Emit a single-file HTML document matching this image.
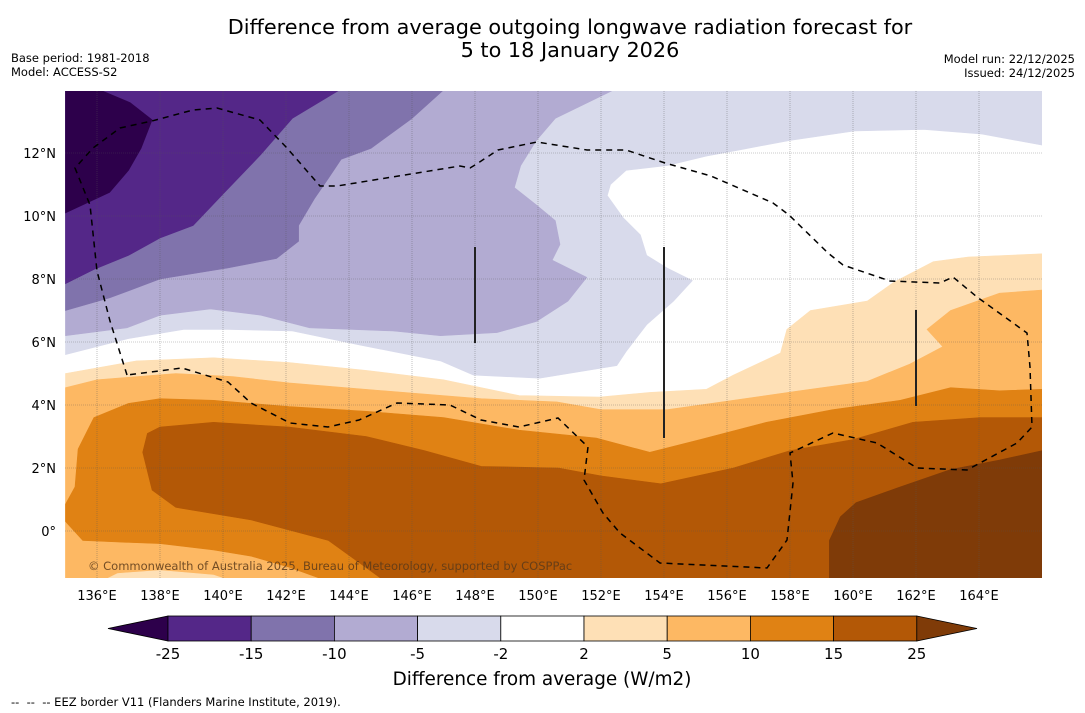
<!DOCTYPE html>
<html><head><meta charset="utf-8"><style>
body{margin:0;background:#fff;}
svg{display:block;font-family:"DejaVu Sans","Liberation Sans",sans-serif;}
</style></head><body>
<svg id="c" width="1085" height="713" viewBox="0 0 1085 713" xmlns="http://www.w3.org/2000/svg">
<text x="570" y="34" font-size="20.8" text-anchor="middle">Difference from average outgoing longwave radiation forecast for</text>
<text x="570" y="57" font-size="20.8" text-anchor="middle">5 to 18 January 2026</text>
<text x="11" y="62" font-size="11.5">Base period: 1981-2018</text>
<text x="11" y="76" font-size="11.5">Model: ACCESS-S2</text>
<text x="1075" y="63" font-size="11.5" text-anchor="end">Model run: 22/12/2025</text>
<text x="1075" y="77" font-size="11.5" text-anchor="end">Issued: 24/12/2025</text>
<defs><clipPath id="mapclip"><rect x="65" y="91" width="977" height="487"/></clipPath></defs>
<g id="map" clip-path="url(#mapclip)"><rect x="65" y="91" width="977" height="487" fill="#fff"/></g>
<g id="axes"></g>
<g id="cbar"></g>
<text x="542" y="685" font-size="18.4" text-anchor="middle">Difference from average (W/m2)</text>
<text x="11" y="706" font-size="11.5" xml:space="preserve">--  --  -- EEZ border V11 (Flanders Marine Institute, 2019).</text>
</svg>
<script>
const levels=[-25,-15,-10,-5,-2,2,5,10,15,25];
const bandColors=["#2d004b","#542788","#8073ac","#b2abd2","#d8daeb","#ffffff","#fee0b6","#fdb863","#e08214","#b35806","#7f3b08"];
const lonTicks=[136,138,140,142,144,146,148,150,152,154,156,158,160,162,164];
const latTicks=[0,2,4,6,8,10,12];
// contour regions [lon,lat], drawn in order
const regNeg2=[[135,14],[166,14],[166,12.25],[164.1,12.6],[162.25,12.75],[160.05,12.7],[158,12.4],[156.4,12.1],[155.35,11.9],[154.1,11.6],[152.8,11.45],[152.3,11.0],[152.2,10.65],[152.7,9.95],[153.25,9.4],[153.45,8.75],[154.1,8.35],[154.9,7.95],[154.3,7.3],[153.45,6.55],[152.8,5.7],[152.5,5.25],[150.05,4.85],[147.95,4.95],[146.9,5.4],[144.35,5.9],[142.2,6.35],[140.15,6.4],[138.75,6.4],[136.95,6.1],[135,5.6]];
const regNeg5=[[135,14],[152.4,14],[150.55,13.1],[149.95,12.4],[149.45,11.6],[149.25,10.9],[149.95,10.35],[150.55,9.85],[150.7,9.1],[150.45,8.6],[151.55,8.05],[150.95,7.3],[149.95,6.65],[148.7,6.3],[146.9,6.2],[145.4,6.35],[142.75,6.45],[141.2,6.85],[139.6,7.05],[138,6.85],[136.95,6.45],[135,6.2]];
const regNeg10=[[135,14],[147,14],[146,13.1],[144.7,12.15],[143.75,11.8],[143.35,11.2],[142.9,10.55],[142.4,9.7],[142.4,9.2],[141.7,8.65],[140.15,8.35],[138,8.0],[136.4,7.4],[135,7.0]];
const regNeg15=[[135,14],[143.7,14],[142.2,13.1],[141.2,11.95],[140,10.7],[139.05,9.7],[138,9.3],[137,8.75],[135.9,8.3],[135,7.85]];
const regNeg25=[[135,14],[136.1,14],[137.05,13.6],[137.75,13.05],[137.4,12.15],[137,11.45],[136.4,10.75],[135,10.1]];
const regPos2=[[135,5.0],[137.25,5.4],[139.7,5.5],[142.1,5.35],[144.55,5.1],[147,4.8],[149.4,4.3],[151.95,4.25],[153.55,4.4],[155.35,4.5],[156.2,4.95],[157.7,5.65],[157.9,6.4],[158.65,7.0],[160.45,7.3],[161.3,7.9],[162.55,8.55],[163.65,8.7],[166,8.8],[166,-1.6],[135,-1.6]];
const regPos5=[[135,4.55],[136,4.8],[138.5,5.0],[140.3,4.9],[142.1,4.7],[143.9,4.55],[145.75,4.4],[148.2,4.2],[150.6,4.1],[152,3.85],[154.1,3.85],[156.2,4.15],[158.3,4.45],[160.45,4.75],[161.8,5.3],[162.85,5.85],[162.35,6.4],[163.1,7.0],[164.65,7.55],[166,7.65],[166,-1.6],[135,-1.6]];
const regPos2b=[[136.15,-1.6],[136.65,-1.35],[138,-1.25],[139.7,-1.4],[140.3,-1.6]];
const regPos10=[[135,0.85],[135.3,1.4],[135.4,2.6],[135.9,3.6],[137,4.05],[138,4.2],[139.7,4.15],[142.1,3.95],[144.55,3.8],[147,3.6],[149.4,3.2],[151.85,2.95],[153.55,2.5],[155.15,2.9],[157.25,3.45],[159.35,3.85],[161.5,4.15],[163.1,4.55],[164.65,4.45],[166,4.5],[166,-1.6],[143.35,-1.6],[142.1,-1.15],[140.9,-0.8],[139.7,-0.6],[138,-0.4],[136.65,-0.35],[135.55,-0.3],[135,0.3]];
const regPos15=[[137.45,2.5],[137.6,3.1],[138,3.3],[139.7,3.45],[142.1,3.3],[144.55,3.0],[146.4,2.55],[148.2,2.05],[150.65,2.0],[152,1.75],[153.9,1.5],[156.2,2.0],[158,2.55],[160,2.9],[161.9,3.45],[164.05,3.6],[166,3.6],[166,-1.6],[145.15,-1.6],[143.35,-0.3],[140.9,0.35],[138.5,0.75],[137.75,1.3]];
const regPos25=[[159.25,-1.6],[159.25,-0.3],[159.6,0.45],[160.1,0.9],[161.5,1.4],[163.1,1.95],[164.65,2.25],[166,2.55],[166,-1.6]];
const NS="http://www.w3.org/2000/svg";
const X=lon=>65.5+(lon-135)*31.5;
const Y=lat=>531-lat*31.5;
function mk(tag,attrs,parent){const e=document.createElementNS(NS,tag);for(const k in attrs)e.setAttribute(k,attrs[k]);parent.appendChild(e);return e;}
const map=document.getElementById('map');
const layers=[[regNeg2,bandColors[4],'contour-below-minus2'],[regNeg5,bandColors[3],'contour-below-minus5'],[regNeg10,bandColors[2],'contour-below-minus10'],[regNeg15,bandColors[1],'contour-below-minus15'],[regNeg25,bandColors[0],'contour-below-minus25'],
[regPos2,bandColors[6],'contour-above-2'],[regPos5,bandColors[7],'contour-above-5'],[regPos2b,bandColors[6],'contour-above-2-patch'],[regPos10,bandColors[8],'contour-above-10'],[regPos15,bandColors[9],'contour-above-15'],[regPos25,bandColors[10],'contour-above-25']];
layers.forEach(L=>{
  const p=mk('polygon',{points:L[0].map(q=>X(q[0]).toFixed(1)+','+Y(q[1]).toFixed(1)).join(' '),fill:L[1],stroke:L[1],'stroke-width':0.6},map);
  
  
});
// grid
lonTicks.forEach(l=>{const g=mk('line',{x1:X(l),x2:X(l),y1:91,y2:578,stroke:'#555','stroke-width':0.6,'stroke-dasharray':'1,1','opacity':0.6},map);

});
latTicks.forEach(l=>{const g=mk('line',{x1:65,x2:1042,y1:Y(l),y2:Y(l),stroke:'#555','stroke-width':0.6,'stroke-dasharray':'1,1','opacity':0.6},map);

});
// EEZ dashed
const eez=mk('path',{d:"M127,375 L110,321 L97,271 L90,205 L75,168 L93,148 L120,128 L152,121 L193,110 L217,108 L260,120 L287,148 L320,186 L337,186 L460,166 L470,168 L475,165 L498,150 L537,142 L587,150 L626,150 L665,163 L711,176 L773,203 L789,215 L828,253 L843,265 L890,281 L940,283 L953,277 L977,297 L1027,333 L1030,367 L1032,427 L1017,443 L967,470 L917,468 L877,443 L833,433 L790,453 L793,483 L787,540 L767,568 L660,563 L620,533 L603,513 L584,480 L588,447 L558,418 L519,427 L481,420 L450,405 L397,403 L359,420 L328,427 L290,423 L251,403 L228,382 L182,368 L127,375",fill:'none',stroke:'#000','stroke-width':1.5,'stroke-dasharray':'6,5'},map);


[[475,247,343],[664,247,438],[916,310,406]].forEach(v=>{const l=mk('line',{x1:v[0],x2:v[0],y1:v[1],y2:v[2],stroke:'#222','stroke-width':2},map);

});
const cp=mk('text',{x:88,y:570,'font-size':11.5,fill:'#5a3a1a','fill-opacity':0.85},map);cp.textContent='© Commonwealth of Australia 2025, Bureau of Meteorology, supported by COSPPac';


// axes labels
const ax=document.getElementById('axes');
lonTicks.forEach(l=>{const t=mk('text',{x:X(l),y:600,'font-size':13,'text-anchor':'middle'},ax);t.textContent=l+'°E';

});
latTicks.forEach(l=>{const t=mk('text',{x:56,y:Y(l)+5,'font-size':13,'text-anchor':'end'},ax);t.textContent=l===0?'0°':l+'°N';

});
// colorbar
const cb=document.getElementById('cbar');
const cx0=168,cw=83.2,cy=616,ch=25;
const C=i=>cx0+i*cw;
let tri=mk('polygon',{points:`108,${cy+ch/2} ${C(0)},${cy} ${C(0)},${cy+ch}`,fill:bandColors[0],stroke:'#000','stroke-width':0.8},cb);


for(let i=0;i<levels.length-1;i++){const r=mk('rect',{x:C(i),y:cy,width:cw,height:ch,fill:bandColors[i+1],stroke:'#000','stroke-width':0.8},cb);

}
tri=mk('polygon',{points:`${C(levels.length-1)},${cy} 977,${cy+ch/2} ${C(levels.length-1)},${cy+ch}`,fill:bandColors[10],stroke:'#000','stroke-width':0.8},cb);


levels.forEach((v,i)=>{const t=mk('text',{x:C(i),y:659,'font-size':15,'text-anchor':'middle'},cb);t.textContent=v;

});
</script>
</body></html>
